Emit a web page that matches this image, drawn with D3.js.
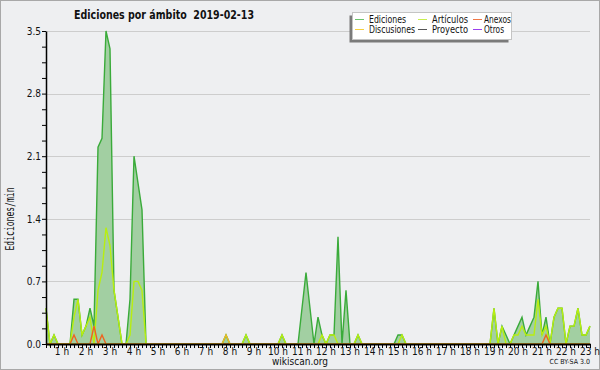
<!DOCTYPE html>
<html>
<head>
<meta charset="utf-8">
<script src="https://cdn.jsdelivr.net/npm/d3@7"></script>
<style>
  body { margin: 0; background: #fff; }
  svg { display: block; }
  text { font-family: "Liberation Sans Narrow", "DejaVu Sans Condensed", "Liberation Sans", sans-serif; fill: #111; }
</style>
</head>
<body>
<div id="chart"></div>
<script>
// ── datos: ediciones/min cada 10 min, de 00:20 a 23:00 (fila = una hora) ──
const ediciones = [
              0.4, 0,   0.1, 0,
    0,   0,   0,   0.5, 0.5, 0.1,
    0.2, 0.4, 0.2, 2.2, 2.3, 3.5,
    3.3, 0.6, 0.3, 0,   0,   0.5,
    2.1, 1.8, 1.5, 0,   0,   0,
    0,   0,   0,   0,   0,   0,
    0,   0,   0,   0,   0,   0,
    0,   0,   0,   0,   0,   0.1,
    0,   0,   0,   0,   0.1, 0,
    0,   0,   0,   0,   0,   0,
    0,   0.1, 0,   0,   0,   0,
    0.4, 0.8, 0.4, 0,   0.3, 0.1,
    0,   0.1, 0.1, 1.2, 0,   0.6,
    0,   0,   0.1, 0,   0,   0,
    0,   0,   0,   0,   0,   0,
    0.1, 0.1, 0,   0,   0,   0,
    0,   0,   0,   0,   0,   0,
    0,   0,   0,   0,   0,   0,
    0,   0,   0,   0,   0,   0,
    0.4, 0,   0.2, 0.1, 0,   0.1,
    0.2, 0.3, 0.1, 0.2, 0.3, 0.7,
    0.1, 0.3, 0,   0.3, 0.4, 0.4,
    0,   0.2, 0.2, 0.4, 0.1, 0.1,
    0.2
];
const articulos = [
              0.4, 0,   0.1, 0,
    0,   0,   0,   0.3, 0.5, 0.1,
    0.2, 0.3, 0,   0.6, 0.8, 1.3,
    1.1, 0.6, 0.3, 0,   0,   0.1,
    0.7, 0.7, 0.6, 0,   0,   0,
    0,   0,   0,   0,   0,   0,
    0,   0,   0,   0,   0,   0,
    0,   0,   0,   0,   0,   0,
    0,   0,   0,   0,   0.1, 0,
    0,   0,   0,   0,   0,   0,
    0,   0.1, 0,   0,   0,   0,
    0,   0,   0,   0,   0,   0.1,
    0,   0.1, 0.1, 0,   0,   0,
    0,   0,   0.1, 0,   0,   0,
    0,   0,   0,   0,   0,   0,
    0,   0.1, 0,   0,   0,   0,
    0,   0,   0,   0,   0,   0,
    0,   0,   0,   0,   0,   0,
    0,   0,   0,   0,   0,   0,
    0.4, 0,   0.2, 0,   0,   0.1,
    0.1, 0.2, 0.1, 0.1, 0.1, 0.5,
    0.1, 0.2, 0,   0.3, 0.4, 0.4,
    0,   0.2, 0.2, 0.4, 0.1, 0.1,
    0.2
];
const anexos = [
              0,   0,   0,   0,
    0,   0,   0,   0.1, 0,   0,
    0,   0,   0.2, 0,   0.1, 0,
    0,   0,   0,   0,   0,   0,
    0,   0,   0,   0,   0,   0,
    0,   0,   0,   0,   0,   0,
    0,   0,   0,   0,   0,   0,
    0,   0,   0,   0,   0,   0,
    0,   0,   0,   0,   0,   0,
    0,   0,   0,   0,   0,   0,
    0,   0,   0,   0,   0,   0,
    0,   0,   0,   0,   0,   0,
    0,   0,   0,   0,   0,   0,
    0,   0,   0,   0,   0,   0,
    0,   0,   0,   0,   0,   0,
    0,   0,   0,   0,   0,   0,
    0,   0,   0,   0,   0,   0,
    0,   0,   0,   0,   0,   0,
    0,   0,   0,   0,   0,   0,
    0,   0,   0,   0,   0,   0,
    0,   0,   0,   0,   0,   0,
    0,   0.1, 0,   0,   0,   0,
    0,   0,   0,   0,   0,   0,
    0
];
const discusiones = [
              0,   0,   0,   0,
    0,   0,   0,   0,   0,   0,
    0,   0,   0,   0,   0,   0,
    0,   0,   0,   0,   0,   0,
    0,   0,   0,   0,   0,   0,
    0,   0,   0,   0,   0,   0,
    0,   0,   0,   0,   0,   0,
    0,   0,   0,   0,   0,   0.1,
    0,   0,   0,   0,   0,   0,
    0,   0,   0,   0,   0,   0,
    0,   0,   0,   0,   0,   0,
    0,   0,   0,   0,   0,   0,
    0,   0,   0,   0,   0,   0,
    0,   0,   0,   0,   0,   0,
    0,   0,   0,   0,   0,   0,
    0,   0,   0,   0,   0,   0,
    0,   0,   0,   0,   0,   0,
    0,   0,   0,   0,   0,   0,
    0,   0,   0,   0,   0,   0,
    0,   0,   0,   0,   0,   0,
    0,   0,   0,   0,   0,   0,
    0,   0,   0,   0,   0,   0,
    0,   0,   0,   0,   0,   0,
    0
];

const startMin = 20, stepMin = 10;           // primer punto 00:20, paso 10 min
const hourTicks  = [1,2,3,4,5,6,7,8,9,10,11,12,13,14,15,16,17,18,19,20,21,22,23];
const yMajor     = [0, 0.7, 1.4, 2.1, 2.8, 3.5];
const yMajorText = ["0.0", "0.7", "1.4", "2.1", "2.8", "3.5"];

const legendRows = [
    [["Ediciones", "#6cc46c"], ["Artículos", "#c8ee50"], ["Anexos", "#f07848"]],
    [["Discusiones", "#f5d040"], ["Proyecto", "#555"], ["Otros", "#9a40ee"]]
];

// ── lienzo ──────────────────────────────────────────────────
const W = 600, H = 370;
const svg = d3.select("#chart").append("svg").attr("width", W).attr("height", H);

svg.append("rect").attr("x", 0.5).attr("y", 0.5).attr("width", W - 1).attr("height", H - 1)
    .attr("fill", "#eeeff1").attr("stroke", "#a8a8a8");

const times = ediciones.map((_, i) => startMin + i * stepMin);
const x = d3.scaleLinear().domain([times[0], times[times.length - 1]]).range([46, 590]);
const y = d3.scaleLinear().domain([0, 3.5]).range([344, 31]);

// rejilla
svg.append("g").selectAll("line").data(yMajor.slice(1)).join("line")
    .attr("x1", 46).attr("x2", 590)
    .attr("y1", d => Math.round(y(d)) + 0.5).attr("y2", d => Math.round(y(d)) + 0.5)
    .attr("stroke", "#cdcdcd");

// series
const pts = arr => arr.map((v, i) => [times[i], v]);
const area = d3.area().x(d => x(d[0])).y0(y(0)).y1(d => y(d[1]));
const line = d3.line().x(d => x(d[0])).y(d => y(d[1]));

svg.append("path").attr("d", area(pts(ediciones))).attr("fill", "#a2cfa2");
svg.append("path").attr("d", line(pts(ediciones))).attr("fill", "none")
    .attr("stroke", "#3aab3a").attr("stroke-width", 1.4);

[[articulos, "#b8ee10"], [anexos, "#ee6420"], [discusiones, "#eebb20"]].forEach(([arr, col]) => {
    svg.append("path").attr("d", line(pts(arr))).attr("fill", "none")
        .attr("stroke", col).attr("stroke-width", 1.4);
});

// eje Y
const yMinor = d3.range(0, 3.5 + 1e-6, 0.175);
const yAxis = svg.append("g").attr("transform", "translate(46,0)")
    .call(d3.axisLeft(y).tickValues(yMinor).tickSize(4).tickSizeOuter(0)
        .tickFormat(d => {
            const k = yMajor.findIndex(m => Math.abs(m - d) < 1e-6);
            return k >= 0 ? yMajorText[k] : "";
        }));
yAxis.select(".domain").attr("stroke", "#000").attr("stroke-width", 1.5);
yAxis.selectAll(".tick line").attr("stroke", "#000");
yAxis.selectAll(".tick text").attr("font-size", 10).attr("x", -5)
    .style("font-family", '"Liberation Sans Narrow","DejaVu Sans Condensed",sans-serif');

// eje X
const xAxis = svg.append("g").attr("transform", "translate(0,344)")
    .call(d3.axisBottom(x).tickValues(times).tickSize(4).tickSizeOuter(0).tickFormat(""));
xAxis.select(".domain").attr("stroke", "#000").attr("stroke-width", 2);
xAxis.selectAll(".tick line").attr("stroke", "#000");

svg.append("g").selectAll("text").data(hourTicks).join("text")
    .attr("x", d => x(d * 60)).attr("y", 355)
    .attr("text-anchor", "middle").attr("font-size", 10)
    .text(d => d + " h");

// títulos
svg.append("text").attr("x", 74).attr("y", 19)
    .attr("font-size", 12.5).attr("font-weight", "bold")
    .attr("textLength", 180).attr("lengthAdjust", "spacingAndGlyphs")
    .style("font-family", '"DejaVu Sans","Liberation Sans",sans-serif')
    .style("white-space", "pre")
    .text("Ediciones por ámbito  2019-02-13");

svg.append("text").attr("transform", "translate(14,219) rotate(-90)")
    .attr("text-anchor", "middle").attr("font-size", 11.5)
    .attr("textLength", 63).attr("lengthAdjust", "spacingAndGlyphs")
    .style("font-family", '"DejaVu Sans Mono","Liberation Mono",monospace')
    .text("Ediciones/min");

svg.append("text").attr("x", 300).attr("y", 365).attr("text-anchor", "middle")
    .attr("font-size", 10).text("wikiscan.org");
svg.append("text").attr("x", 590).attr("y", 364).attr("text-anchor", "end")
    .attr("font-size", 7).text("CC BY-SA 3.0");

// leyenda
const lg = svg.append("g");
lg.append("rect").attr("x", 349.5).attr("y", 15.5).attr("width", 159).attr("height", 27)
    .attr("fill", "#7a7a7a");
lg.append("rect").attr("x", 352.5).attr("y", 12.5).attr("width", 159).attr("height", 27)
    .attr("fill", "#fff").attr("stroke", "#c4c4c4");

const colLine = [355, 418, 473], colText = [369, 432, 484], rowY = [19, 29];
const textLen = [[37, 36, 27], [46, 36, 20]];
legendRows.forEach((row, r) => row.forEach(([name, col], c) => {
    lg.append("line").attr("x1", colLine[c]).attr("x2", colLine[c] + 9)
        .attr("y1", rowY[r] + 0.5).attr("y2", rowY[r] + 0.5)
        .attr("stroke", col).attr("stroke-width", 1);
    lg.append("text").attr("x", colText[c]).attr("y", rowY[r] + 3.5)
        .attr("font-size", 10)
        .attr("textLength", textLen[r][c]).attr("lengthAdjust", "spacingAndGlyphs")
        .text(name);
}));
</script>
</body>
</html>
